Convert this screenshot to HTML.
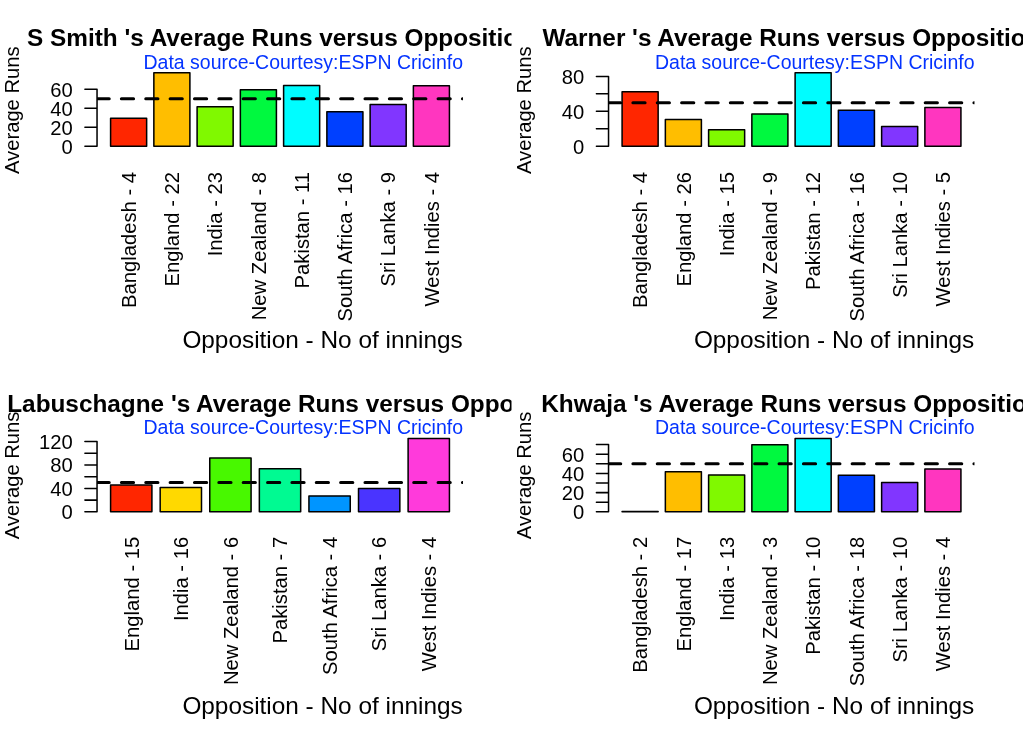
<!DOCTYPE html>
<html lang="en">
<head>
<meta charset="utf-8">
<title>Average Runs versus Opposition</title>
<style>
html,body{margin:0;padding:0;background:#fff;}
body{width:1023px;height:731px;overflow:hidden;}
svg{display:block;will-change:transform;}
text{font-family:"Liberation Sans",sans-serif;fill:#000;}
.ax{font-size:20.22px;}
.main{font-size:24.35px;font-weight:bold;}
.sub{font-size:19.49px;fill:#0433FF;}
.xlab{font-size:24.36px;}
.ln{stroke:#000;stroke-width:1.52;stroke-linecap:round;stroke-linejoin:round;fill:none;}
.bar{stroke:#000;stroke-width:1.52;stroke-linejoin:round;}
.dash{stroke:#000;stroke-width:3.05;stroke-linecap:round;stroke-dasharray:12.18 12.18;fill:none;}
</style>
</head>
<body>
<svg width="1023" height="731" viewBox="0 0 1023 731">
<rect x="0" y="0" width="1023" height="731" fill="#fff"/>
<defs>
<clipPath id="fig0"><rect x="0" y="0" width="511.5" height="365.5"/></clipPath>
<clipPath id="plt0"><rect x="97.04" y="72.78" width="365.94" height="74.4"/></clipPath>
<clipPath id="fig1"><rect x="511.5" y="0" width="511.5" height="365.5"/></clipPath>
<clipPath id="plt1"><rect x="608.54" y="72.78" width="365.94" height="74.4"/></clipPath>
<clipPath id="fig2"><rect x="0" y="365.5" width="511.5" height="365.5"/></clipPath>
<clipPath id="plt2"><rect x="97.04" y="437.98" width="365.94" height="74.4"/></clipPath>
<clipPath id="fig3"><rect x="511.5" y="365.5" width="511.5" height="365.5"/></clipPath>
<clipPath id="plt3"><rect x="608.54" y="437.98" width="365.94" height="74.4"/></clipPath>
</defs>
<g clip-path="url(#fig0)">
<rect class="bar" x="110.59" y="118.2" width="36.05" height="28.05" fill="#FF2600"/>
<rect class="bar" x="153.85" y="72.8" width="36.05" height="73.45" fill="#FFBE00"/>
<rect class="bar" x="197.1" y="106.8" width="36.05" height="39.45" fill="#80F900"/>
<rect class="bar" x="240.36" y="89.85" width="36.05" height="56.4" fill="#00F93F"/>
<rect class="bar" x="283.61" y="85.5" width="36.05" height="60.75" fill="#00FDFF"/>
<rect class="bar" x="326.87" y="111.75" width="36.05" height="34.5" fill="#0040FF"/>
<rect class="bar" x="370.13" y="104.5" width="36.05" height="41.75" fill="#8136FF"/>
<rect class="bar" x="413.38" y="85.7" width="36.05" height="60.55" fill="#FF36BF"/>
<text class="ax" text-anchor="end" transform="translate(135.87 172) rotate(-90)">Bangladesh - 4</text>
<text class="ax" text-anchor="end" transform="translate(179.12 172) rotate(-90)">England - 22</text>
<text class="ax" text-anchor="end" transform="translate(222.38 172) rotate(-90)">India - 23</text>
<text class="ax" text-anchor="end" transform="translate(265.63 172) rotate(-90)">New Zealand - 8</text>
<text class="ax" text-anchor="end" transform="translate(308.89 172) rotate(-90)">Pakistan - 11</text>
<text class="ax" text-anchor="end" transform="translate(352.14 172) rotate(-90)">South Africa - 16</text>
<text class="ax" text-anchor="end" transform="translate(395.4 172) rotate(-90)">Sri Lanka - 9</text>
<text class="ax" text-anchor="end" transform="translate(438.65 172) rotate(-90)">West Indies - 4</text>
<path class="ln" d="M97.04 146.25V89.25M97.04 146.25H84.91M97.04 127.25H84.91M97.04 108.25H84.91M97.04 89.25H84.91"/>
<text class="ax" text-anchor="end" x="72.8" y="153.75">0</text>
<text class="ax" text-anchor="end" x="72.8" y="134.75">20</text>
<text class="ax" text-anchor="end" x="72.8" y="115.75">40</text>
<text class="ax" text-anchor="end" x="72.8" y="96.75">60</text>
<text class="ax" text-anchor="middle" transform="translate(19 110.2) rotate(-90)">Average Runs</text>
<text class="main" text-anchor="middle" x="280" y="45.5">S Smith &#39;s Average Runs versus Opposition</text>
<text class="xlab" text-anchor="end" x="462.68" y="348.1">Opposition - No of innings</text>
<g clip-path="url(#plt0)"><path class="dash" d="M97.04 98.75H467.98"/></g>
<text class="sub" text-anchor="end" x="462.98" y="68.5">Data source-Courtesy:ESPN Cricinfo</text>
</g>
<g clip-path="url(#fig1)">
<rect class="bar" x="622.09" y="91.75" width="36.05" height="54.45" fill="#FF2600"/>
<rect class="bar" x="665.35" y="119.4" width="36.05" height="26.8" fill="#FFBE00"/>
<rect class="bar" x="708.6" y="129.8" width="36.05" height="16.4" fill="#80F900"/>
<rect class="bar" x="751.86" y="113.9" width="36.05" height="32.3" fill="#00F93F"/>
<rect class="bar" x="795.11" y="72.8" width="36.05" height="73.4" fill="#00FDFF"/>
<rect class="bar" x="838.37" y="110.2" width="36.05" height="36" fill="#0040FF"/>
<rect class="bar" x="881.63" y="126.5" width="36.05" height="19.7" fill="#8136FF"/>
<rect class="bar" x="924.88" y="107.5" width="36.05" height="38.7" fill="#FF36BF"/>
<text class="ax" text-anchor="end" transform="translate(647.37 172) rotate(-90)">Bangladesh - 4</text>
<text class="ax" text-anchor="end" transform="translate(690.62 172) rotate(-90)">England - 26</text>
<text class="ax" text-anchor="end" transform="translate(733.88 172) rotate(-90)">India - 15</text>
<text class="ax" text-anchor="end" transform="translate(777.13 172) rotate(-90)">New Zealand - 9</text>
<text class="ax" text-anchor="end" transform="translate(820.39 172) rotate(-90)">Pakistan - 12</text>
<text class="ax" text-anchor="end" transform="translate(863.64 172) rotate(-90)">South Africa - 16</text>
<text class="ax" text-anchor="end" transform="translate(906.9 172) rotate(-90)">Sri Lanka - 10</text>
<text class="ax" text-anchor="end" transform="translate(950.15 172) rotate(-90)">West Indies - 5</text>
<path class="ln" d="M608.54 146.2V76.4M608.54 146.2H596.41M608.54 128.75H596.41M608.54 111.3H596.41M608.54 93.85H596.41M608.54 76.4H596.41"/>
<text class="ax" text-anchor="end" x="584.3" y="153.7">0</text>
<text class="ax" text-anchor="end" x="584.3" y="118.8">40</text>
<text class="ax" text-anchor="end" x="584.3" y="83.9">80</text>
<text class="ax" text-anchor="middle" transform="translate(530.5 110.2) rotate(-90)">Average Runs</text>
<text class="main" text-anchor="middle" x="791.5" y="45.5">Warner &#39;s Average Runs versus Opposition</text>
<text class="xlab" text-anchor="end" x="974.18" y="348.1">Opposition - No of innings</text>
<g clip-path="url(#plt1)"><path class="dash" d="M608.54 102.7H979.48"/></g>
<text class="sub" text-anchor="end" x="974.48" y="68.5">Data source-Courtesy:ESPN Cricinfo</text>
</g>
<g clip-path="url(#fig2)">
<rect class="bar" x="110.59" y="485.1" width="41.32" height="26.75" fill="#FF2600"/>
<rect class="bar" x="160.18" y="487.5" width="41.32" height="24.35" fill="#FFD900"/>
<rect class="bar" x="209.76" y="458.1" width="41.32" height="53.75" fill="#48F800"/>
<rect class="bar" x="259.35" y="468.65" width="41.32" height="43.2" fill="#00FA92"/>
<rect class="bar" x="308.93" y="495.9" width="41.32" height="15.95" fill="#0095FF"/>
<rect class="bar" x="358.52" y="488.4" width="41.32" height="23.45" fill="#4A34FF"/>
<rect class="bar" x="408.11" y="438.4" width="41.32" height="73.45" fill="#FF3ADB"/>
<text class="ax" text-anchor="end" transform="translate(138.5 536.8) rotate(-90)">England - 15</text>
<text class="ax" text-anchor="end" transform="translate(188.09 536.8) rotate(-90)">India - 16</text>
<text class="ax" text-anchor="end" transform="translate(237.67 536.8) rotate(-90)">New Zealand - 6</text>
<text class="ax" text-anchor="end" transform="translate(287.26 536.8) rotate(-90)">Pakistan - 7</text>
<text class="ax" text-anchor="end" transform="translate(336.85 536.8) rotate(-90)">South Africa - 4</text>
<text class="ax" text-anchor="end" transform="translate(386.43 536.8) rotate(-90)">Sri Lanka - 6</text>
<text class="ax" text-anchor="end" transform="translate(436.02 536.8) rotate(-90)">West Indies - 4</text>
<path class="ln" d="M97.04 511.85V441.49M97.04 511.85H84.91M97.04 500.12H84.91M97.04 488.4H84.91M97.04 476.67H84.91M97.04 464.95H84.91M97.04 453.22H84.91M97.04 441.49H84.91"/>
<text class="ax" text-anchor="end" x="72.8" y="519.35">0</text>
<text class="ax" text-anchor="end" x="72.8" y="495.9">40</text>
<text class="ax" text-anchor="end" x="72.8" y="472.45">80</text>
<text class="ax" text-anchor="end" x="72.8" y="448.99">120</text>
<text class="ax" text-anchor="middle" transform="translate(19 475.4) rotate(-90)">Average Runs</text>
<text class="main" text-anchor="middle" x="293.3" y="411.8">Labuschagne &#39;s Average Runs versus Opposition</text>
<text class="xlab" text-anchor="end" x="462.68" y="714">Opposition - No of innings</text>
<g clip-path="url(#plt2)"><path class="dash" d="M97.04 482.45H467.98"/></g>
<text class="sub" text-anchor="end" x="462.98" y="433.7">Data source-Courtesy:ESPN Cricinfo</text>
</g>
<g clip-path="url(#fig3)">
<rect class="bar" x="622.09" y="511.4" width="36.05" height="0.45" fill="#FF2600"/>
<rect class="bar" x="665.35" y="471.7" width="36.05" height="40.15" fill="#FFBE00"/>
<rect class="bar" x="708.6" y="474.95" width="36.05" height="36.9" fill="#80F900"/>
<rect class="bar" x="751.86" y="444.85" width="36.05" height="67" fill="#00F93F"/>
<rect class="bar" x="795.11" y="438.4" width="36.05" height="73.45" fill="#00FDFF"/>
<rect class="bar" x="838.37" y="475.2" width="36.05" height="36.65" fill="#0040FF"/>
<rect class="bar" x="881.63" y="482.6" width="36.05" height="29.25" fill="#8136FF"/>
<rect class="bar" x="924.88" y="468.9" width="36.05" height="42.95" fill="#FF36BF"/>
<text class="ax" text-anchor="end" transform="translate(647.37 536.8) rotate(-90)">Bangladesh - 2</text>
<text class="ax" text-anchor="end" transform="translate(690.62 536.8) rotate(-90)">England - 17</text>
<text class="ax" text-anchor="end" transform="translate(733.88 536.8) rotate(-90)">India - 13</text>
<text class="ax" text-anchor="end" transform="translate(777.13 536.8) rotate(-90)">New Zealand - 3</text>
<text class="ax" text-anchor="end" transform="translate(820.39 536.8) rotate(-90)">Pakistan - 10</text>
<text class="ax" text-anchor="end" transform="translate(863.64 536.8) rotate(-90)">South Africa - 18</text>
<text class="ax" text-anchor="end" transform="translate(906.9 536.8) rotate(-90)">Sri Lanka - 10</text>
<text class="ax" text-anchor="end" transform="translate(950.15 536.8) rotate(-90)">West Indies - 4</text>
<path class="ln" d="M608.54 511.85V444.58M608.54 511.85H596.41M608.54 502.24H596.41M608.54 492.63H596.41M608.54 483.02H596.41M608.54 473.41H596.41M608.54 463.8H596.41M608.54 454.19H596.41M608.54 444.58H596.41"/>
<text class="ax" text-anchor="end" x="584.3" y="519.35">0</text>
<text class="ax" text-anchor="end" x="584.3" y="500.13">20</text>
<text class="ax" text-anchor="end" x="584.3" y="480.91">40</text>
<text class="ax" text-anchor="end" x="584.3" y="461.69">60</text>
<text class="ax" text-anchor="middle" transform="translate(530.5 475.4) rotate(-90)">Average Runs</text>
<text class="main" text-anchor="middle" x="791.5" y="411.8">Khwaja &#39;s Average Runs versus Opposition</text>
<text class="xlab" text-anchor="end" x="974.18" y="714">Opposition - No of innings</text>
<g clip-path="url(#plt3)"><path class="dash" d="M608.54 463.65H979.48"/></g>
<text class="sub" text-anchor="end" x="974.48" y="433.7">Data source-Courtesy:ESPN Cricinfo</text>
</g>
</svg>
</body>
</html>
